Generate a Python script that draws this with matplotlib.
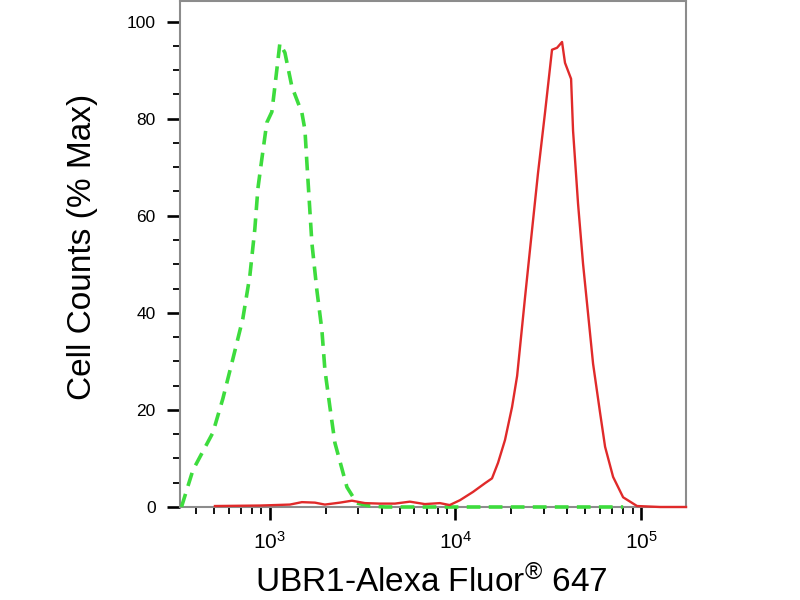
import matplotlib.pyplot as plt
from matplotlib.ticker import MultipleLocator, LogLocator, NullFormatter, LogFormatterMathtext

plt.rcParams["font.family"] = ["Liberation Sans", "DejaVu Sans"]
plt.rcParams["mathtext.fontset"] = "custom"
plt.rcParams["mathtext.rm"] = "Liberation Sans"
plt.rcParams["mathtext.it"] = "Liberation Sans"

# isotype control (green dashed)
control_x = [334, 385, 493, 558, 632, 715, 780, 830, 862, 906, 963, 1025, 1064,
             1132, 1205, 1314, 1488, 1545, 1583, 1684, 1791, 1906, 1980, 2106,
             2241, 2601, 2944, 3459, 4200, 10000, 30000, 80000]
control_y = [0, 7.6, 15.3, 22.3, 30.5, 38.8, 47.6, 57.3, 65.6, 71.8, 79.2, 81.4, 86.6,
             95.5, 93.6, 86.6, 81.2, 77.7, 70.9, 54.4, 44.7, 36.5, 28.2, 20.6,
             13.2, 4.1, 0.8, 0.2, 0, 0, 0, 0]

# UBR1 stained cells (red solid)
ubr1_x = [506, 884, 1282, 1488, 1748, 1979, 2384, 2768, 3252, 3916, 4715, 5679,
          6839, 8236, 9304, 10570, 12420, 14420, 15730, 16950, 18480, 20170, 21480,
          23710, 25850, 27850, 30350, 33110, 35240, 37500, 38900, 41950, 42990,
          45730, 48660, 51790, 55110, 60110, 63960, 70640, 79990, 95080, 126500, 174500]
ubr1_y = [0.2, 0.3, 0.5, 1.0, 0.9, 0.5, 0.9, 1.3, 0.8, 0.7, 0.7, 1.1,
          0.6, 0.8, 0.4, 1.4, 3.1, 4.9, 5.9, 9.1, 13.8, 20.6, 27.0,
          43.3, 57.1, 68.9, 81.2, 94.2, 94.6, 95.8, 91.5, 88.2, 77.5,
          62.5, 50.1, 39.8, 29.5, 19.4, 12.4, 6.2, 2.0, 0.2, 0, 0]

fig = plt.figure(figsize=(8, 6), dpi=100)
ax = fig.add_axes([0.225, 0.155, 0.6325, 0.843])

ax.plot(control_x, control_y, color="#3ddc3d", lw=2.6, ls=(0, (3.8, 2.3)),
        zorder=3, clip_on=False)
ax.plot(ubr1_x, ubr1_y, color="#e02a2a", lw=1.7, zorder=4, clip_on=False)

ax.set_xscale("log")
ax.set_xlim(328, 1.745e5)
ax.set_ylim(0, 104.2)

ax.xaxis.set_major_locator(LogLocator(base=10))
ax.xaxis.set_major_formatter(LogFormatterMathtext())
ax.xaxis.set_minor_locator(LogLocator(base=10, subs=range(2, 10)))
ax.xaxis.set_minor_formatter(NullFormatter())
ax.yaxis.set_major_locator(MultipleLocator(20))
ax.yaxis.set_minor_locator(MultipleLocator(5))

ax.tick_params(which="major", direction="out", length=9.4, width=1.9, color="black")
ax.tick_params(which="minor", direction="out", length=5, width=1.3, color="black")
ax.tick_params(axis="y", which="major", labelsize=12.5, pad=8)
ax.tick_params(axis="x", which="major", labelsize=15, pad=8)

for spine in ax.spines.values():
    spine.set_color("#8c8c8c")
    spine.set_linewidth(1.5)

ax.set_ylabel("Cell Counts (% Max)", fontsize=24, va="center", ha="center")
ax.yaxis.set_label_coords(-0.192, 0.514)
ax.set_xlabel("UBR1-Alexa Fluor$\\mathregular{^{\u00ae}}$ 647", fontsize=24,
              va="center", ha="center")
ax.xaxis.set_label_coords(0.496, -0.148)

fig.savefig("out.png", dpi=100)
